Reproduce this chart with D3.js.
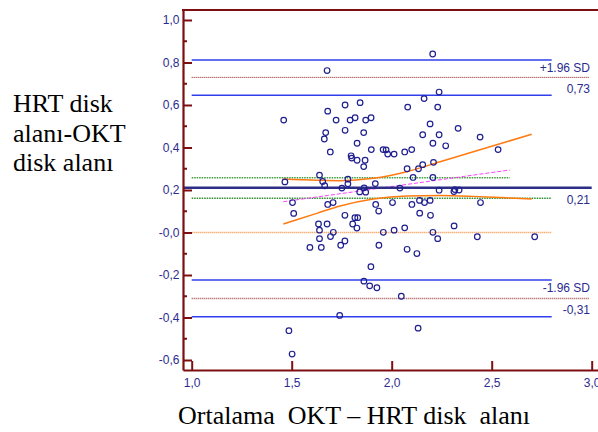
<!DOCTYPE html>
<html>
<head>
<meta charset="utf-8">
<script src="https://cdnjs.cloudflare.com/ajax/libs/d3/7.8.5/d3.min.js"></script>
<style>
  body { margin: 0; background: #fff; }
  text { white-space: pre; }
</style>
</head>
<body>
<script>
// svg size
var svgWidth = 598;
var svgHeight = 432;

// scatter data: mean of OKT & HRT (x) and HRT - OKT difference (y)
var meanValues = [
  2.205, 1.677, 1.46, 1.68, 1.722, 1.767, 1.792, 1.817, 1.842, 1.87,
  1.897, 1.67, 1.663, 1.767, 1.693, 1.827, 1.86, 1.797, 1.80, 1.827,
  1.867, 1.86, 1.898, 1.957, 1.972, 1.98, 2.012, 2.065, 2.10, 2.08,
  2.162, 2.237, 2.23, 2.192, 2.155, 2.237, 2.332, 2.206, 2.27, 2.442,
  2.532, 2.077, 2.134, 2.155, 2.209, 2.107, 2.206, 1.639, 1.466, 1.655,
  1.665, 1.781, 1.781, 1.751, 1.84, 1.862, 1.87, 1.918, 2.041, 2.237,
  2.311, 2.316, 2.337,
  1.504, 1.51, 1.68, 1.707, 1.92, 1.935, 2.004, 2.101, 2.139, 2.164,
  2.192, 2.444, 1.766, 1.816, 1.83, 1.805, 1.826, 2.14, 2.194, 2.312,
  1.634, 1.677, 1.639, 1.708, 1.694, 1.639, 1.958, 2.012, 2.065, 2.206,
  2.23, 2.428, 2.715, 1.591, 1.648, 1.745, 1.766, 1.936, 2.077, 2.126,
  1.896, 1.861, 1.89, 1.926, 2.048, 1.74, 2.132, 1.486, 1.502
];
var diffValues = [
  0.840, 0.762, 0.529, 0.571, 0.529, 0.600, 0.529, 0.540, 0.611, 0.529,
  0.540, 0.470, 0.440, 0.481, 0.379, 0.420, 0.470, 0.361, 0.350, 0.340,
  0.340, 0.310, 0.390, 0.390, 0.389, 0.369, 0.369, 0.379, 0.390, 0.590,
  0.630, 0.661, 0.590, 0.511, 0.460, 0.460, 0.490, 0.420, 0.408, 0.449,
  0.390, 0.300, 0.300, 0.319, 0.330, 0.259, 0.259, 0.270, 0.238, 0.240,
  0.220, 0.251, 0.229, 0.209, 0.191, 0.210, 0.190, 0.230, 0.209, 0.199,
  0.193, 0.202, 0.200,
  0.141, 0.090, 0.132, 0.141, 0.132, 0.101, 0.141, 0.132, 0.151, 0.141,
  0.151, 0.141, 0.081, 0.070, 0.070, 0.040, 0.021, 0.091, 0.081, 0.031,
  0.040, 0.040, 0.011, 0.001, -0.019, -0.029, 0.001, 0.011, 0.022, 0.001,
  -0.029, -0.020, -0.020, -0.070, -0.070, -0.060, -0.040, -0.060, -0.079, -0.099,
  -0.161, -0.229, -0.251, -0.260, -0.300, -0.390, -0.450, -0.462, -0.572
];

// Bland-Altman reference levels
var meanDiff = 0.211;
var meanDiffCI = [0.258, 0.161];
var upperLimit = 0.73;
var upperLimitCI = [0.812, 0.646];
var lowerLimit = -0.311;
var lowerLimitCI = [-0.224, -0.396];

// regression line of difference on mean, and its curved confidence bands
var regrX = [1.458, 2.59];
var regrY = [0.145, 0.294];
var bandX = [1.458, 1.625, 1.742, 1.908, 2.075, 2.242, 2.408, 2.575, 2.70];
var bandUpper = [0.252, 0.246, 0.244, 0.255, 0.286, 0.333, 0.380, 0.427, 0.462];
var bandLower = [0.040, 0.090, 0.125, 0.158, 0.172, 0.174, 0.170, 0.163, 0.158];

// tick labels
var xTicks = [1.0, 1.5, 2.0, 2.5, 3.0];
var xTickLabels = ["1,0", "1,5", "2,0", "2,5", "3,0"];
var yTicks = [-0.6, -0.4, -0.2, 0.0, 0.2, 0.4, 0.6, 0.8, 1.0];
var yTickLabels = ["-0,6", "-0,4", "-0,2", "-0,0", "0,2", "0,4", "0,6", "0,8", "1,0"];
var yMinorTicks = [-0.5, -0.3, -0.1, 0.1, 0.3, 0.5, 0.7, 0.9];

var axisColor = "#7d0f12";
var textColor = "#2b2b8f";

var svg = d3.select("body")
    .append("svg")
    .attr("width", svgWidth)
    .attr("height", svgHeight);

// scales (plot frame: left 183, right 598, top 10, bottom 370)
var xScale = d3.scaleLinear()
    .domain([0.9565, 3.0315])
    .range([183, 598]);
var yScale = d3.scaleLinear()
    .domain([-0.647, 1.047])
    .range([370, 10]);

// horizontal reference line helper
function hLine(v, x0, x1, color, width, dash) {
    svg.append("line")
        .attr("x1", xScale(x0))
        .attr("x2", xScale(x1))
        .attr("y1", yScale(v))
        .attr("y2", yScale(v))
        .attr("stroke", color)
        .attr("stroke-width", width)
        .attr("stroke-dasharray", dash || null);
}

// zero line
hLine(0, 1.0, 2.8, "#f7b27a", 1.5, "1.5,0.5");
// limits of agreement and their CIs
hLine(upperLimitCI[0], 1.0, 2.8, "#2f3fec", 1.5);
hLine(upperLimitCI[1], 1.0, 2.8, "#2f3fec", 1.5);
hLine(upperLimit, 1.0, 2.99, "#8b1010", 1, "1,1");
hLine(lowerLimitCI[0], 1.0, 2.8, "#2f3fec", 1.5);
hLine(lowerLimitCI[1], 1.0, 2.8, "#2f3fec", 1.5);
hLine(lowerLimit, 1.0, 2.99, "#a04848", 1.5, "1,1");
// mean difference CI
hLine(meanDiffCI[0], 1.0, 2.59, "#3d9a3d", 1.5, "1.5,1");
hLine(meanDiffCI[1], 1.0, 2.8, "#2e8b2e", 1.5, "1.5,1");

// regression line and confidence bands
var line = d3.line()
    .x(d => xScale(d[0]))
    .y(d => yScale(d[1]))
    .curve(d3.curveMonotoneX);

svg.append("path")
    .datum(d3.zip(regrX, regrY))
    .attr("d", line)
    .attr("fill", "none")
    .attr("stroke", "#ff40ff")
    .attr("stroke-width", 1)
    .attr("stroke-dasharray", "4,2");

[bandUpper, bandLower].forEach(function (band) {
    svg.append("path")
        .datum(d3.zip(bandX, band))
        .attr("d", line)
        .attr("fill", "none")
        .attr("stroke", "#ff7a10")
        .attr("stroke-width", 1.5);
});

// mean difference line
hLine(meanDiff, xScale.domain()[0], 3.0, "#2e2e86", 2.5);

// points
svg.append("g")
    .selectAll("circle")
    .data(d3.zip(meanValues, diffValues))
    .enter()
    .append("circle")
    .attr("cx", d => xScale(d[0]))
    .attr("cy", d => yScale(d[1]))
    .attr("r", 2.8)
    .attr("fill", "none")
    .attr("stroke", "#1f1f8f")
    .attr("stroke-width", 1.2);

// labels at the right
function rightLabel(txt, v, dy) {
    svg.append("text")
        .attr("x", 590)
        .attr("y", yScale(v) + dy)
        .attr("text-anchor", "end")
        .attr("font-family", "Liberation Sans, Arial, sans-serif")
        .attr("font-size", 12)
        .attr("fill", textColor)
        .text(txt);
}
rightLabel("+1.96 SD", upperLimit, -5.6);
rightLabel("0,73", upperLimit, 16);
rightLabel("0,21", meanDiff, 16.3);
rightLabel("-1.96 SD", lowerLimit, -6.3);
rightLabel("-0,31", lowerLimit, 15.4);

// axes
var yAxis = d3.axisLeft(yScale)
    .tickValues(yTicks)
    .tickFormat((d, i) => yTickLabels[i])
    .tickSizeInner(-9)
    .tickSizeOuter(0)
    .tickPadding(3.5);
var xAxis = d3.axisBottom(xScale)
    .tickValues(xTicks)
    .tickFormat((d, i) => xTickLabels[i])
    .tickSizeInner(-9)
    .tickSizeOuter(0)
    .tickPadding(8);

var yG = svg.append("g")
    .attr("transform", "translate(183,0)")
    .call(yAxis);
var xG = svg.append("g")
    .attr("transform", "translate(0,370)")
    .call(xAxis);

// minor y ticks
yG.selectAll(".minor")
    .data(yMinorTicks)
    .enter()
    .append("line")
    .attr("x1", 0)
    .attr("x2", 4)
    .attr("y1", d => yScale(d))
    .attr("y2", d => yScale(d))
    .attr("stroke", axisColor)
    .attr("stroke-width", 2);

[yG, xG].forEach(function (g) {
    g.select(".domain").attr("stroke", axisColor).attr("stroke-width", 2.2);
    g.selectAll(".tick line").attr("stroke", axisColor).attr("stroke-width", 2);
    g.selectAll(".tick text")
        .attr("fill", textColor)
        .attr("font-family", "Liberation Sans, Arial, sans-serif")
        .attr("font-size", 12);
});

// top frame line
svg.append("line")
    .attr("x1", 182)
    .attr("x2", 598)
    .attr("y1", 10)
    .attr("y2", 10)
    .attr("stroke", axisColor)
    .attr("stroke-width", 2.2);

// axis titles
var yTitle = svg.append("text")
    .attr("font-family", "Liberation Serif, Times New Roman, serif")
    .attr("font-size", 26)
    .attr("fill", "#000");
["HRT disk", "alanı-OKT", "disk alanı"].forEach(function (t, i) {
    yTitle.append("tspan")
        .attr("x", 13)
        .attr("y", 112.3 + i * 29.2)
        .text(t);
});

svg.append("text")
    .attr("x", 178)
    .attr("y", 424)
    .attr("font-family", "Liberation Serif, Times New Roman, serif")
    .attr("font-size", 26)
    .attr("fill", "#000")
    .text("Ortalama  OKT – HRT disk  alanı");
</script>
</body>
</html>
